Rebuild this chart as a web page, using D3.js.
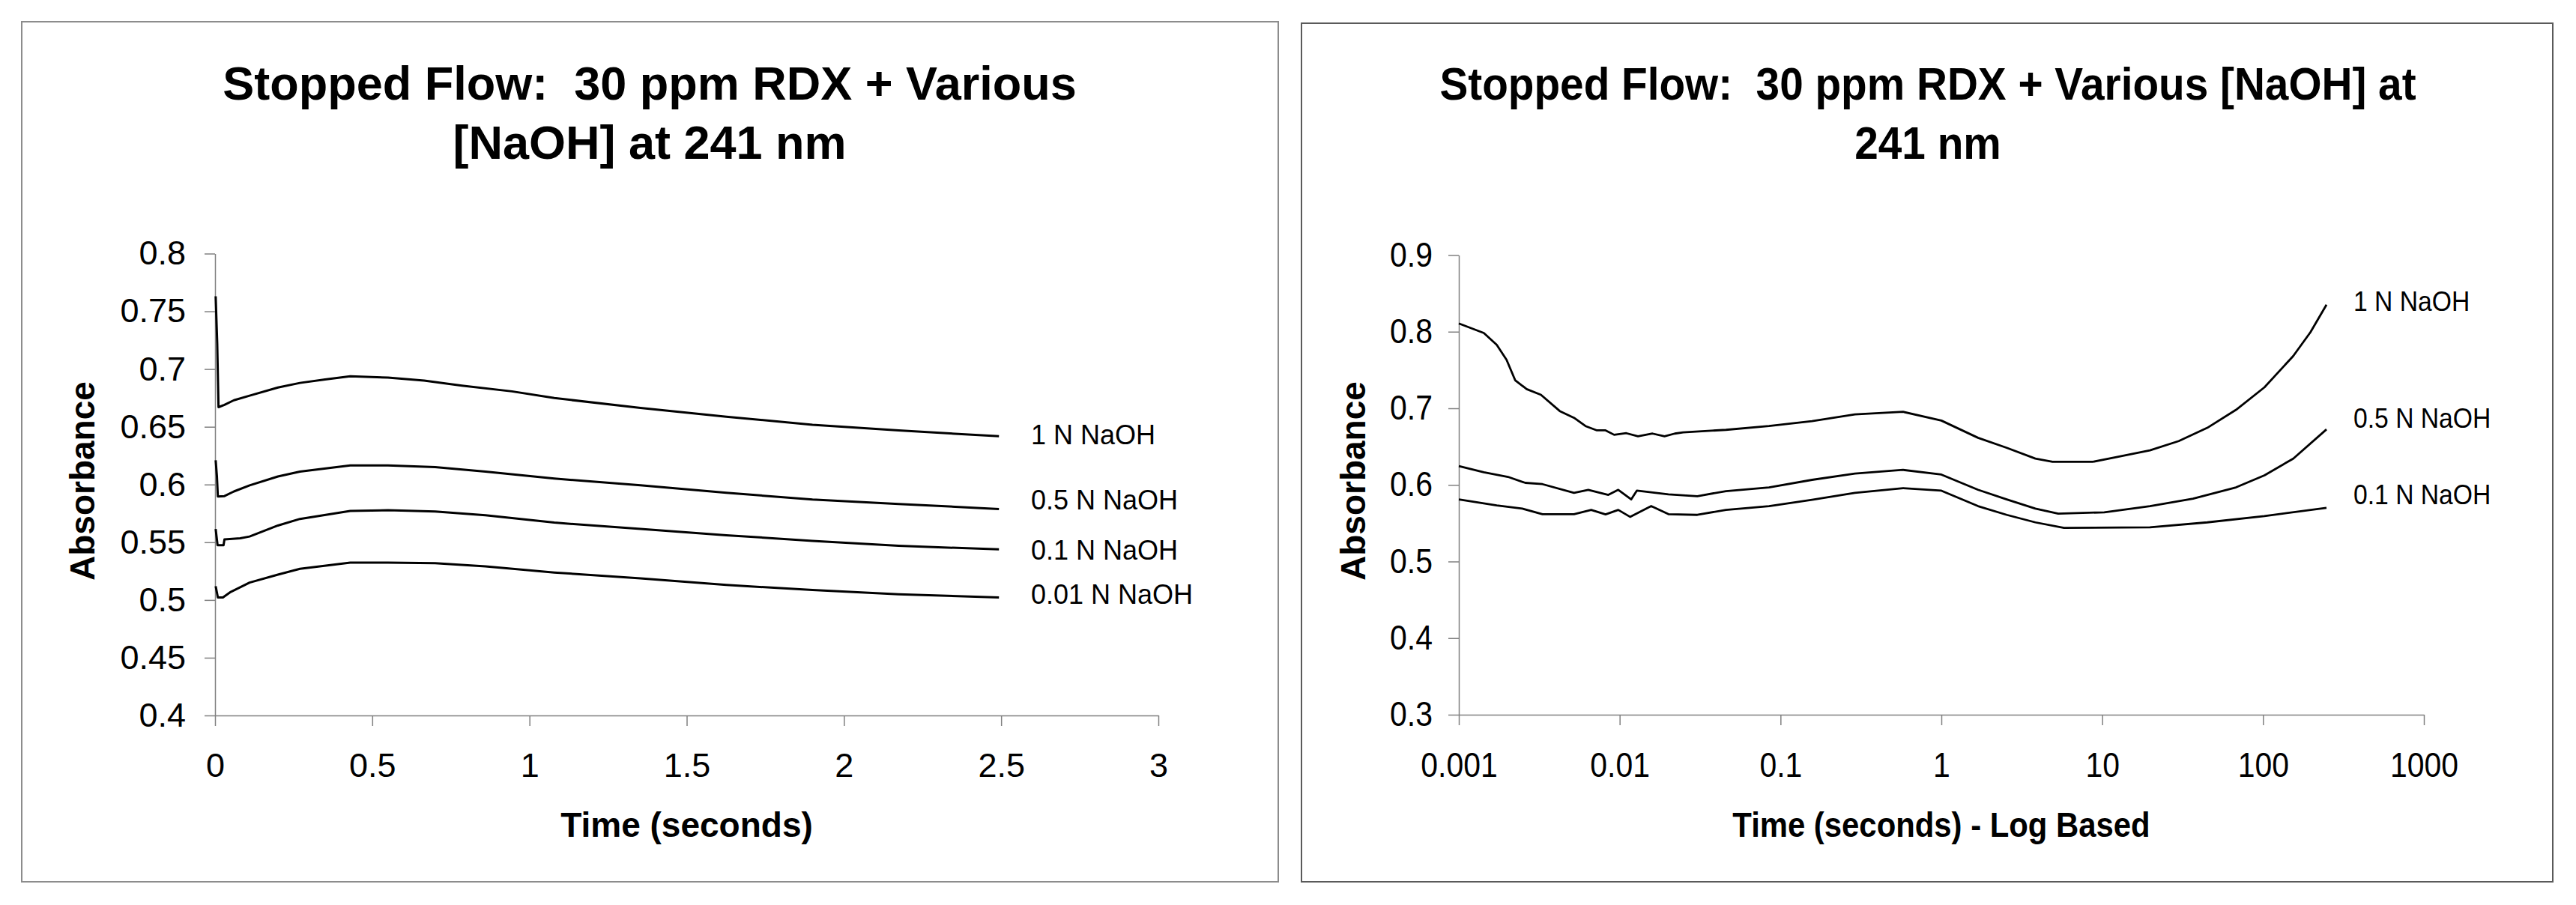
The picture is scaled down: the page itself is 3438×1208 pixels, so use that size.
<!DOCTYPE html>
<html>
  <head>
    <title>Stopped Flow RDX + NaOH</title>
    <script src="https://d3js.org/d3.v7.min.js"></script>
    <style>
      body { margin: 0; background: #fff; }
      text { font-family: "Liberation Sans", Arial, sans-serif; white-space: pre; }
    </style>
  </head>
  <body>
    <div id="vis"></div>
    <script>
      // ---- data: [time (s), absorbance] ----
      var linear1N = [[0.002,0.763],[0.007,0.722],[0.011,0.667],[0.03,0.669],[0.06,0.673],[0.11,0.677],[0.2,0.684],[0.27,0.688],[0.35,0.691],[0.43,0.6937],[0.55,0.6926],[0.665,0.690],[0.785,0.6857],[0.944,0.6807],[1.079,0.6749],[1.353,0.6663],[1.626,0.6587],[1.9,0.6518],[2.174,0.6468],[2.493,0.6418]];
      var linear05N = [[0.002,0.621],[0.006,0.607],[0.009,0.5896],[0.03,0.590],[0.06,0.594],[0.11,0.5993],[0.2,0.607],[0.27,0.6112],[0.43,0.6166],[0.55,0.6166],[0.70,0.6151],[0.86,0.6112],[1.079,0.6052],[1.353,0.5993],[1.626,0.5929],[1.9,0.587],[2.174,0.5832],[2.493,0.5788]];
      var linear01N = [[0.002,0.5615],[0.008,0.5475],[0.027,0.5475],[0.03,0.5525],[0.08,0.5535],[0.11,0.555],[0.2,0.5645],[0.27,0.5702],[0.43,0.5771],[0.55,0.5777],[0.70,0.5767],[0.86,0.5734],[1.079,0.567],[1.353,0.5615],[1.626,0.5561],[1.9,0.5512],[2.174,0.5469],[2.493,0.5438]];
      var linear001N = [[0.002,0.5119],[0.009,0.5022],[0.025,0.5022],[0.05,0.507],[0.11,0.5151],[0.2,0.522],[0.27,0.527],[0.43,0.5324],[0.55,0.5324],[0.70,0.5318],[0.86,0.5291],[1.079,0.5238],[1.353,0.5188],[1.626,0.513],[1.9,0.5087],[2.174,0.505],[2.493,0.5022]];

      var log1N = [[0.001,0.8107],[0.00143,0.7983],[0.00172,0.7829],[0.00198,0.7633],[0.00224,0.7366],[0.00264,0.7251],[0.00324,0.7176],[0.00424,0.6964],[0.0052,0.6876],[0.00613,0.6768],[0.00722,0.6712],[0.00817,0.6712],[0.00924,0.6654],[0.011,0.6675],[0.013,0.6635],[0.016,0.667],[0.019,0.6635],[0.022,0.667],[0.0248,0.6686],[0.0458,0.6719],[0.0848,0.6768],[0.157,0.6833],[0.29,0.6921],[0.578,0.6954],[1.0,0.684],[1.69,0.6615],[2.55,0.6484],[3.84,0.6343],[4.91,0.6301],[8.72,0.6301],[12.1,0.636],[19.8,0.6451],[29.9,0.6572],[45,0.6745],[67.9,0.698],[102,0.7274],[154,0.7682],[197,0.7993],[248,0.8352]];
      var log05N = [[0.001,0.6245],[0.00143,0.6164],[0.00202,0.6105],[0.00259,0.6027],[0.00331,0.601],[0.0052,0.5897],[0.00638,0.5936],[0.0085,0.587],[0.0098,0.5936],[0.0118,0.5811],[0.0128,0.5926],[0.0201,0.5877],[0.0304,0.5853],[0.0458,0.5919],[0.0848,0.5968],[0.157,0.6066],[0.29,0.6148],[0.578,0.6196],[1.0,0.6135],[1.69,0.5936],[2.55,0.5811],[3.84,0.5691],[5.33,0.5625],[10.3,0.5642],[19.8,0.5723],[36.7,0.5821],[67.9,0.5968],[102,0.6125],[154,0.6343],[248,0.6725]];
      var log01N = [[0.001,0.5811],[0.00172,0.5733],[0.00248,0.5691],[0.00331,0.5618],[0.0052,0.5618],[0.00665,0.5674],[0.00817,0.5615],[0.0098,0.5674],[0.0116,0.5583],[0.0157,0.5723],[0.0201,0.5618],[0.0304,0.5609],[0.0458,0.5674],[0.0848,0.5723],[0.157,0.5805],[0.29,0.5897],[0.578,0.5958],[1.0,0.5925],[1.69,0.5723],[2.55,0.5609],[3.84,0.5511],[5.79,0.5439],[19.8,0.5446],[45,0.5511],[102,0.5593],[248,0.5701]];

      var leftNames = ["1 N NaOH", "0.5 N NaOH", "0.1 N NaOH", "0.01 N NaOH"];
      var rightNames = ["1 N NaOH", "0.5 N NaOH", "0.1 N NaOH"];

      var leftXTicks = [0, 0.5, 1, 1.5, 2, 2.5, 3];
      var leftYTicks = [0.4, 0.45, 0.5, 0.55, 0.6, 0.65, 0.7, 0.75, 0.8];
      var rightXTicks = [0.001, 0.01, 0.1, 1, 10, 100, 1000];
      var rightXLabels = ["0.001", "0.01", "0.1", "1", "10", "100", "1000"];
      var rightYTicks = [0.3, 0.4, 0.5, 0.6, 0.7, 0.8, 0.9];

      var leftTitle = ["Stopped Flow:  30 ppm RDX + Various", "[NaOH] at 241 nm"];
      var rightTitle = ["Stopped Flow:  30 ppm RDX + Various [NaOH] at", "241 nm"];
      var leftXTitle = "Time (seconds)";
      var rightXTitle = "Time (seconds) - Log Based";
      var yTitle = "Absorbance";

      // ---- drawing ----
      var width = 3438, height = 1208;
      var svg = d3.select("#vis").append("svg")
        .attr("width", width).attr("height", height);

      var axisColor = "#808080";

      function label(x, y, s, size, sx, bold, anchor) {
        svg.append("text")
          .attr("transform", "translate(" + x + "," + y + ") scale(" + sx + ",1)")
          .attr("text-anchor", anchor || "middle")
          .attr("font-size", size)
          .attr("font-weight", bold ? "bold" : "normal")
          .attr("fill", "#000")
          .text(s);
      }

      function styleAxis(g, size, sx, left, pad) {
        g.attr("font-size", size).attr("font-family", null);
        g.select(".domain").attr("stroke", axisColor).attr("stroke-width", 1.5);
        g.selectAll(".tick line").attr("stroke", axisColor).attr("stroke-width", 1.5);
        g.selectAll(".tick text").attr("fill", "#000")
          .attr("transform", "scale(" + sx + ",1)");
        if (left) g.selectAll(".tick text").attr("x", -(14 + pad) / sx);
      }

      function panel(p) {
        svg.append("rect")
          .attr("x", p.box[0]).attr("y", p.box[1])
          .attr("width", p.box[2] - p.box[0]).attr("height", p.box[3] - p.box[1])
          .attr("fill", "#fff").attr("stroke", p.border).attr("stroke-width", 2);

        var gx = svg.append("g")
          .attr("transform", "translate(0," + p.y.range()[0] + ")")
          .call(d3.axisBottom(p.x).tickValues(p.xTicks).tickSize(14).tickPadding(36)
            .tickSizeOuter(0).tickFormat(p.xFormat));
        styleAxis(gx, p.tickSize, p.tickSx, false);

        var gy = svg.append("g")
          .attr("transform", "translate(" + p.x.range()[0] + ",0)")
          .call(d3.axisLeft(p.y).tickValues(p.yTicks).tickSize(14).tickPadding(p.yPad)
            .tickSizeOuter(0).tickFormat(function (d) { return String(+d.toFixed(2)); }));
        styleAxis(gy, p.tickSize, p.tickSx, true, p.yPad);

        var line = d3.line()
          .x(function (d) { return p.x(d[0]); })
          .y(function (d) { return p.y(d[1]); });

        p.series.forEach(function (s) {
          svg.append("path")
            .datum(s)
            .attr("d", line)
            .attr("fill", "none")
            .attr("stroke", "#000")
            .attr("stroke-width", p.lineW)
            .attr("stroke-linejoin", "round");
        });

        p.names.forEach(function (n, i) {
          label(p.nameX, p.nameY[i], n, p.nameSize, p.nameSx, false, "start");
        });

        label(p.cx, p.titleY[0], p.title[0], p.titleSize, p.titleSx, true);
        label(p.cx, p.titleY[1], p.title[1], p.titleSize, p.titleSx, true);

        var plotMid = (p.x.range()[0] + p.x.range()[1]) / 2;
        label(plotMid, 1117, p.xTitle, 46, p.xTitleSx, true);

        svg.append("text")
          .attr("transform", "translate(" + p.yTitleX + ",775) rotate(-90)")
          .attr("text-anchor", "start")
          .attr("font-size", 46)
          .attr("font-weight", "bold")
          .text(yTitle);
      }

      panel({
        box: [29, 29, 1706, 1177],
        border: "#8c8c8c",
        x: d3.scaleLinear().domain([0, 3]).range([287, 1546]),
        y: d3.scaleLinear().domain([0.4, 0.8]).range([955, 338.5]),
        xTicks: leftXTicks,
        xFormat: function (d) { return String(d); },
        yTicks: leftYTicks,
        yPad: 25,
        tickSize: 45, tickSx: 1,
        series: [linear1N, linear05N, linear01N, linear001N],
        lineW: 3,
        names: leftNames, nameX: 1376, nameY: [593, 680, 747, 806], nameSize: 36, nameSx: 1,
        title: leftTitle, titleY: [133, 212], titleSize: 63, titleSx: 1, cx: 867,
        xTitle: leftXTitle, xTitleSx: 1,
        yTitleX: 126
      });

      panel({
        box: [1737, 31, 3407, 1177],
        border: "#5a5a5a",
        x: d3.scaleLog().domain([0.001, 1000]).range([1947, 3235]),
        y: d3.scaleLinear().domain([0.3, 0.9]).range([954, 340.5]),
        xTicks: rightXTicks,
        xFormat: function (d, i) { return rightXLabels[i]; },
        yTicks: rightYTicks,
        yPad: 21,
        tickSize: 46, tickSx: 0.89,
        series: [log1N, log05N, log01N],
        lineW: 2.8,
        names: rightNames, nameX: 3141, nameY: [415, 571, 673], nameSize: 37, nameSx: 0.91,
        title: rightTitle, titleY: [133, 212], titleSize: 61, titleSx: 0.93, cx: 2573,
        xTitle: rightXTitle, xTitleSx: 0.91,
        yTitleX: 1822
      });
    </script>
  </body>
</html>
